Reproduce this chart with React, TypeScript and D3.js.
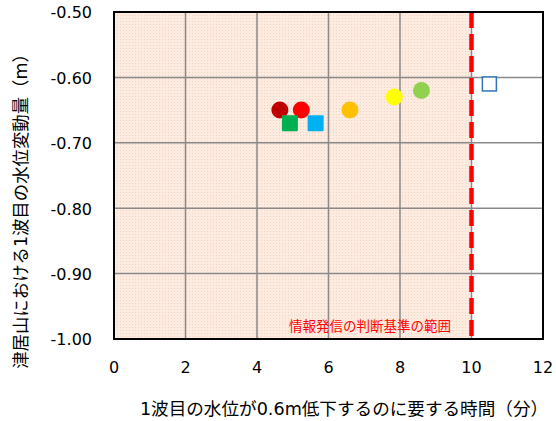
import React from "react";
import * as d3 from "d3";

const W = 556, H = 421;
const margin = { left: 114, right: 13, top: 12, bottom: 82 };

const xTicks = [0, 2, 4, 6, 8, 10, 12];
const yTicks = [-0.5, -0.6, -0.7, -0.8, -0.9, -1.0];

const circleX = [4.64, 5.24, 6.6, 7.84, 8.6];
const circleY = [-0.65, -0.65, -0.65, -0.63, -0.62];
const circleColors = ["#C00000", "#FF0000", "#FFC000", "#FFFF00", "#92D050"];

const squareX = [4.92, 5.64];
const squareY = [-0.67, -0.67];
const squareColors = ["#00B050", "#00B0F0"];

const hollowX = [10.5];
const hollowY = [-0.61];

const thresholdX = 10;
const xTitle = "1波目の水位が0.6m低下するのに要する時間（分）";
const yTitle = "津居山における1波目の水位変動量（m）";
const bandLabel = "情報発信の判断基準の範囲";

const FONT = '"DejaVu Sans", Verdana, "Noto Sans CJK JP", sans-serif';
const JFONT = '"Noto Sans CJK JP", "DejaVu Sans", sans-serif';

export default function App() {
  const x = d3.scaleLinear().domain([0, 12]).range([margin.left, W - margin.right]);
  const y = d3.scaleLinear().domain([-1.0, -0.5]).range([H - margin.bottom, margin.top]);
  const x0 = x(0), x1 = x(12), yT = y(-0.5), yB = y(-1.0);
  const r = 8.5;
  const s = 16;
  const fmt = (t: number) => d3.format(".2f")(t).replace("\u2212", "-");
  return (
    <svg width={W} height={H} style={{ position: "absolute", left: 0, top: 0, fontFamily: FONT }}>
      <defs>
        <pattern id="dots" width="3" height="3" patternUnits="userSpaceOnUse">
          <rect width="3" height="3" fill="#FCEBE0" />
          <rect x="0" y="0" width="1" height="1" fill="#F6D2BC" />
        </pattern>
      </defs>
      <rect x={x0} y={yT} width={x(thresholdX) - x0} height={yB - yT} fill="url(#dots)" />
      {xTicks.slice(1, -1).map((t) => (
        <line key={"gx" + t} x1={x(t)} x2={x(t)} y1={yT} y2={yB} stroke="#898989" strokeWidth={1.5} />
      ))}
      {yTicks.slice(1, -1).map((t) => (
        <line key={"gy" + t} x1={x0} x2={x1} y1={y(t)} y2={y(t)} stroke="#898989" strokeWidth={1.5} />
      ))}
      <text x={370} y={331} fill="#FF0000" fontSize={13.5} textAnchor="middle" style={{ fontFamily: JFONT }}>{bandLabel}</text>
      <line x1={x(thresholdX)} x2={x(thresholdX)} y1={yT} y2={yB} stroke="#FF0000" strokeWidth={4.5} strokeDasharray="16 6" />
      {circleX.map((v, i) => (
        <circle key={"c" + i} cx={x(v)} cy={y(circleY[i])} r={r} fill={circleColors[i]} />
      ))}
      {squareX.map((v, i) => (
        <rect key={"s" + i} x={x(v) - s / 2} y={y(squareY[i]) - s / 2} width={s} height={s} rx={1} fill={squareColors[i]} />
      ))}
      {hollowX.map((v, i) => (
        <rect key={"h" + i} x={x(v) - 7} y={y(hollowY[i]) - 7} width={14} height={14} fill="white" stroke="#2E75B6" strokeWidth={1.5} />
      ))}
      <rect x={x0} y={yT} width={x1 - x0} height={yB - yT} fill="none" stroke="#000" strokeWidth={2} />
      {yTicks.map((t) => (
        <text key={"yl" + t} x={92} y={y(t) + 6.3} textAnchor="end" fontSize={16} fill="#000">{fmt(t)}</text>
      ))}
      {xTicks.map((t) => (
        <text key={"xl" + t} x={x(t)} y={373} textAnchor="middle" fontSize={16} fill="#000">{t}</text>
      ))}
      <text x={344} y={409} dy="0.35em" textAnchor="middle" fontSize={17.6} fill="#000">{xTitle}</text>
      <text transform={`translate(21,${207}) rotate(-90)`} dy="0.35em" textAnchor="middle" fontSize={17.4} fill="#000">{yTitle}</text>
    </svg>
  );
}
